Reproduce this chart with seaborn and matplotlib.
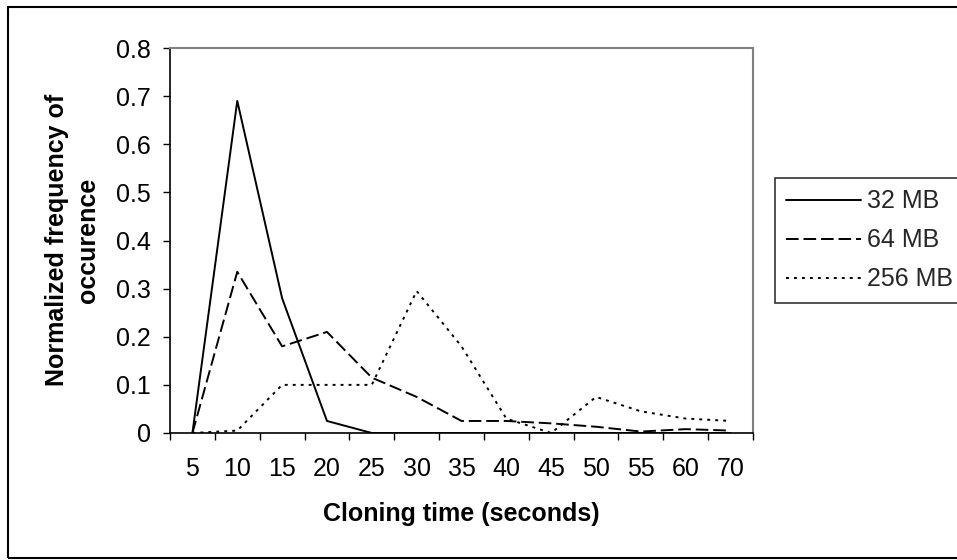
import numpy as np
import pandas as pd
import matplotlib
matplotlib.use("Agg")
import matplotlib.pyplot as plt
import seaborn as sns
from matplotlib.patches import Rectangle

# cloning time categories (seconds) - note the chart skips 65
times = ["5", "10", "15", "20", "25", "30", "35", "40", "45", "50", "55", "60", "70"]
mb32 = [0.0, 0.69, 0.28, 0.025, 0.0, 0.0, 0.0, 0.0, 0.0, 0.0, 0.0, 0.0, 0.0]
mb64 = [0.0, 0.335, 0.18, 0.21, 0.115, 0.075, 0.025, 0.025, 0.02, 0.013, 0.003, 0.008, 0.005]
mb256 = [0.0, 0.005, 0.1, 0.1, 0.1, 0.295, 0.18, 0.03, 0.0, 0.075, 0.045, 0.03, 0.025]
series_names = ["32 MB", "64 MB", "256 MB"]
y_ticks = [0, 0.1, 0.2, 0.3, 0.4, 0.5, 0.6, 0.7, 0.8]
y_tick_labels = ["0", "0.1", "0.2", "0.3", "0.4", "0.5", "0.6", "0.7", "0.8"]

df = pd.DataFrame({
    "time": times * 3,
    "freq": mb32 + mb64 + mb256,
    "size": np.repeat(series_names, len(times)),
})

sns.set_theme(style="white")
plt.rcParams["font.family"] = ["Liberation Sans", "DejaVu Sans"]

fig = plt.figure(figsize=(9.57, 5.6), dpi=100)
ax = fig.add_axes([170 / 957, 1 - 433 / 560, (753 - 170) / 957, (433 - 48) / 560])

sns.lineplot(data=df, x="time", y="freq", hue="size", style="size",
             palette={"32 MB": "black", "64 MB": "black", "256 MB": "black"},
             dashes={"32 MB": "", "64 MB": (6.5, 2.5), "256 MB": (1.5, 2.6)},
             linewidth=1.4, sort=False, ax=ax)

ax.set_xlim(-0.5, len(times) - 0.5)
ax.set_ylim(0, 0.8)
ax.set_yticks(y_ticks)
ax.set_yticklabels(y_tick_labels)
ax.set_xticks(range(len(times)))
ax.set_xticklabels(times)
ax.set_xticks(np.arange(-0.5, len(times)), minor=True)
ax.tick_params(axis="x", which="major", length=0, pad=17, labelsize=18, colors="black")
ax.tick_params(axis="x", which="minor", length=5, width=1, color="black", direction="out", bottom=True)
ax.tick_params(axis="y", length=5, width=1, color="black", direction="out", left=True,
               labelsize=18, pad=9, labelcolor="black")

for s in ["left", "bottom"]:
    ax.spines[s].set_color("black")
    ax.spines[s].set_linewidth(1.2)
for s in ["top", "right"]:
    ax.spines[s].set_color("#808080")
    ax.spines[s].set_linewidth(1.5)

ax.set_xlabel("Cloning time (seconds)", fontsize=18, fontweight="bold", color="black")
ax.xaxis.set_label_coords(461 / 957, 1 - 502 / 560, transform=fig.transFigure)
ax.set_ylabel("Normalized frequency of\noccurence", fontsize=18, fontweight="bold",
              color="black", linespacing=1.35)
ax.yaxis.set_label_coords(100 / 957, 1 - 240 / 560, transform=fig.transFigure)

# legend box runs past the right edge of the image, as in the original
handles, labels = ax.get_legend_handles_labels()
leg = ax.legend(handles, labels, loc="upper left", mode="expand",
                bbox_to_anchor=(775 / 957, 1 - 304 / 560, 200 / 957, 126 / 560),
                bbox_transform=fig.transFigure, fontsize=18, frameon=True, fancybox=False,
                edgecolor="black", handlelength=3.0, handletextpad=0.24, labelspacing=0.6,
                borderpad=0.45, borderaxespad=0)
leg.get_frame().set_linewidth(1.2)

# outer chart border (right side runs off the image)
fig.patches.append(Rectangle((8 / 957, 1 - 558 / 560), 2, (558 - 7) / 560, transform=fig.transFigure,
                             fill=False, edgecolor="black", linewidth=1.5))

fig.savefig("out.png", dpi=100)
